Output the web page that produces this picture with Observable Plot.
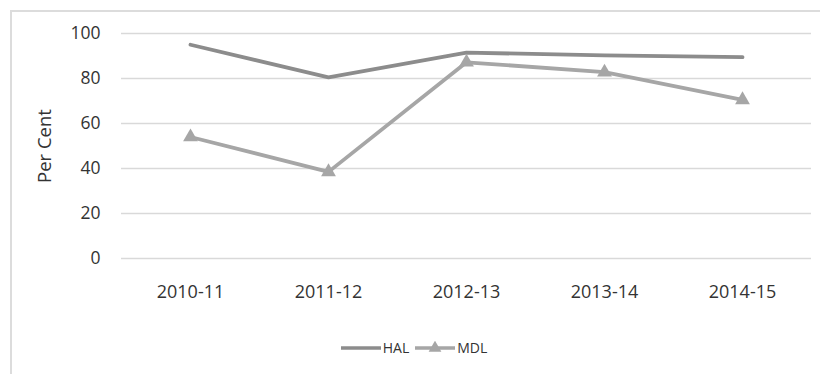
<!DOCTYPE html>
<html>
<head>
<meta charset="utf-8">
<script src="https://cdn.jsdelivr.net/npm/d3@7"></script>
<script src="https://cdn.jsdelivr.net/npm/@observablehq/plot@0.6"></script>
<style>
  html, body { margin: 0; padding: 0; background: #fff; overflow: hidden; }
  body { width: 820px; height: 374px; position: relative; font-family: "Open Sans", sans-serif; }
  #frame { position: absolute; left: 10px; top: 10px; width: 900px; height: 500px; border: 2px solid #dcdcdc; box-sizing: border-box; }
  #chart { position: absolute; left: 0; top: 0; }
  #chart [aria-label="y-axis label"] text { font-size: 18.5px !important; }
  #legend { position: absolute; left: 0; top: 338px; width: 820px; display: flex; justify-content: center; align-items: center; gap: 6px; font-size: 14px; color: #333; padding-left: 8px; box-sizing: border-box; }
  #legend .item { display: flex; align-items: center; gap: 2px; }
</style>
</head>
<body>
<div id="frame"></div>
<div id="chart"></div>
<div id="legend"></div>
<script>
const years = ["2010-11", "2011-12", "2012-13", "2013-14", "2014-15"];
const hal = [95, 80.5, 91.5, 90.3, 89.5];
const mdl = [54, 38.5, 87.2, 82.8, 70.5];
const yTicks = [0, 20, 40, 60, 80, 100];
const seriesNames = ["HAL", "MDL"];
const seriesColors = ["#8c8c8c", "#a6a6a6"];

const halData = years.map((y, i) => ({year: y, value: hal[i]}));
const mdlData = years.map((y, i) => ({year: y, value: mdl[i]}));

const chart = Plot.plot({
  width: 820,
  height: 320,
  marginTop: 33,
  marginBottom: 62,
  marginLeft: 121,
  marginRight: 9,
  style: {fontFamily: "Open Sans, sans-serif", color: "#333", background: "transparent"},
  x: {type: "point", domain: years, padding: 0.5, label: null},
  y: {domain: [0, 100], ticks: yTicks, label: "Per Cent"},
  marks: [
    Plot.ruleY(yTicks, {stroke: "#d9d9d9", strokeWidth: 1.5}),
    Plot.axisY({ticks: yTicks, tickSize: 0, tickPadding: 21, fontSize: 17.5, label: "Per Cent", labelAnchor: "center", labelArrow: "none", labelOffset: 84}),
    Plot.axisX({tickSize: 0, tickPadding: 27, fontSize: 18, label: null}),
    Plot.line(halData, {x: "year", y: "value", stroke: seriesColors[0], strokeWidth: 3.8, strokeLinecap: "round", strokeLinejoin: "round"}),
    Plot.line(mdlData, {x: "year", y: "value", stroke: seriesColors[1], strokeWidth: 3.8, strokeLinecap: "round", strokeLinejoin: "round"}),
    Plot.dot(mdlData, {x: "year", y: "value", symbol: "triangle", r: 5.5, fill: seriesColors[1], stroke: "none"})
  ]
});
chart.querySelectorAll('[aria-label="y-axis label"] text, [aria-label="y-axis tick label"] text, [aria-label="x-axis tick label"] text').forEach(t => t.setAttribute("fill", "#333"));
chart.querySelectorAll('[aria-label="y-axis label"] text').forEach(t => { t.setAttribute("font-size", "18.5"); t.style.fontSize = "18.5px"; });
document.getElementById("chart").appendChild(chart);

const legend = document.getElementById("legend");
seriesNames.forEach((name, i) => {
  const item = document.createElement("div");
  item.className = "item";
  const svg = d3.create("svg").attr("width", 40).attr("height", 14);
  svg.append("line").attr("x1", 0).attr("x2", 40).attr("y1", 7).attr("y2", 7)
    .attr("stroke", seriesColors[i]).attr("stroke-width", 3.5);
  if (name === "MDL") {
    svg.append("path").attr("d", d3.symbol(d3.symbolTriangle, 70)()).attr("transform", "translate(20,7)").attr("fill", seriesColors[i]);
  }
  item.appendChild(svg.node());
  const label = document.createElement("span");
  label.textContent = name;
  item.appendChild(label);
  legend.appendChild(item);
});
</script>
</body>
</html>
